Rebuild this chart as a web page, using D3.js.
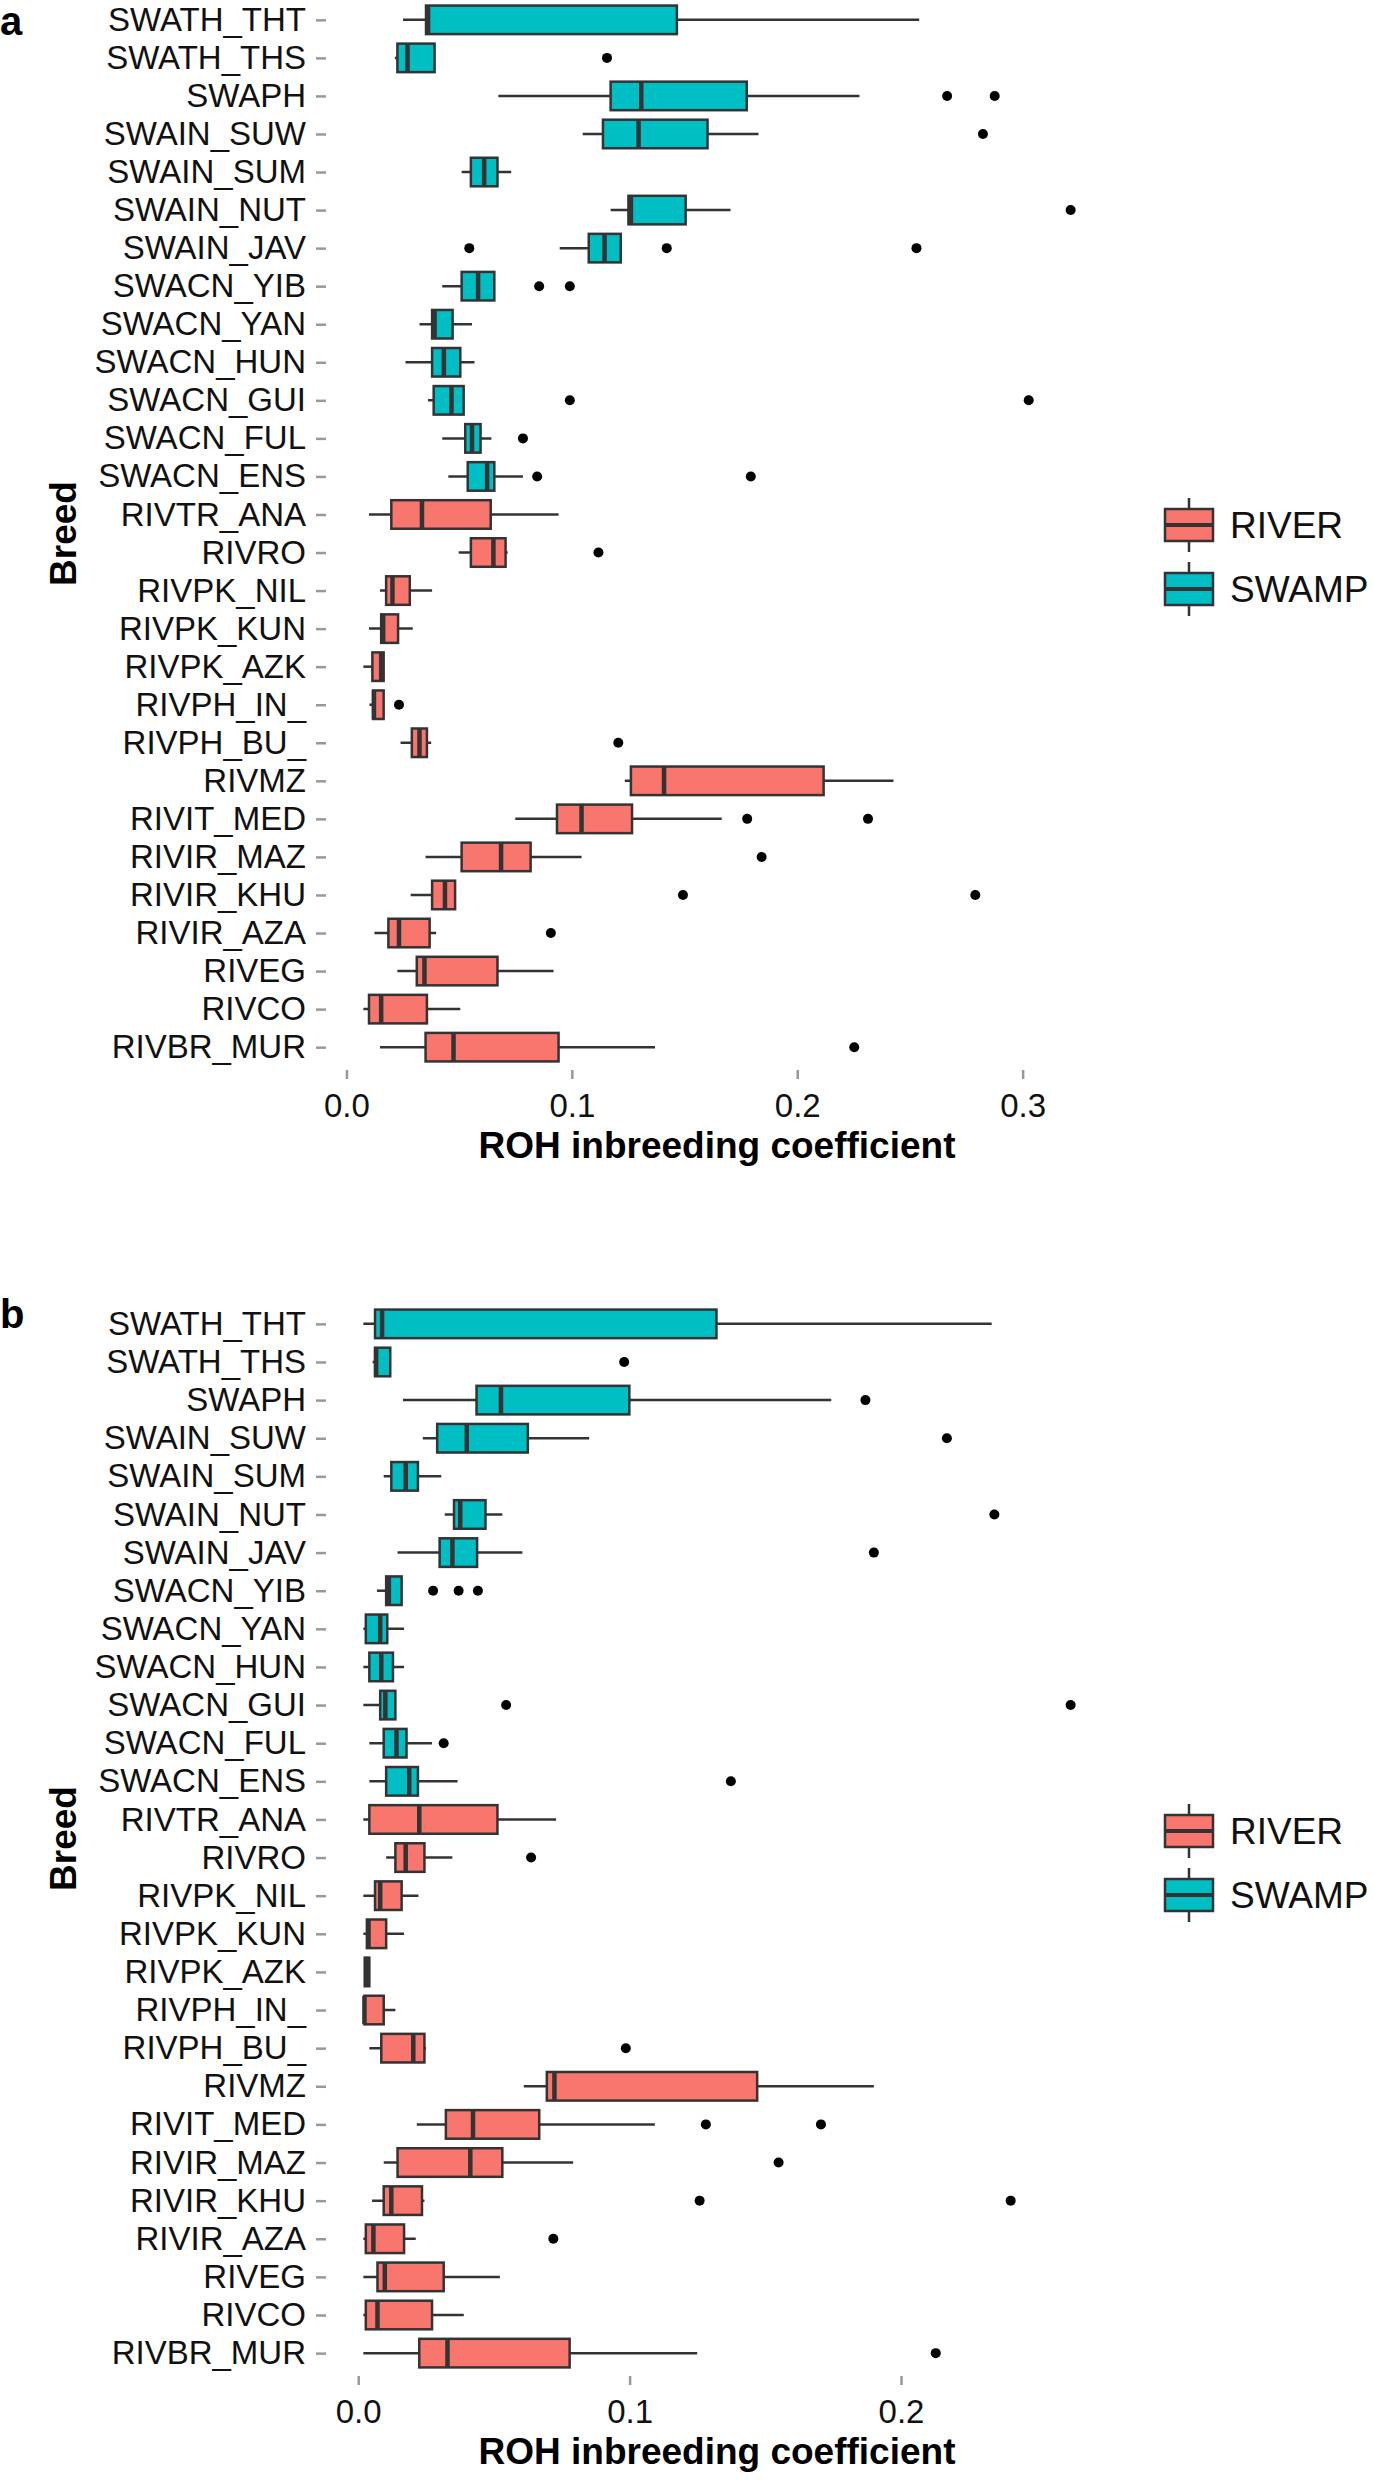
<!DOCTYPE html>
<html>
<head>
<meta charset="utf-8">
<script src="https://cdn.jsdelivr.net/npm/d3@7/dist/d3.min.js"></script>
<style>
  body { margin: 0; background: #fff; }
  svg { display: block; font-family: "Liberation Sans", Arial, sans-serif; }
</style>
</head>
<body>
<svg id="chart" width="1374" height="2480"></svg>
<script>
//Breeds, top to bottom
var breeds = ["SWATH_THT","SWATH_THS","SWAPH","SWAIN_SUW","SWAIN_SUM","SWAIN_NUT","SWAIN_JAV",
  "SWACN_YIB","SWACN_YAN","SWACN_HUN","SWACN_GUI","SWACN_FUL","SWACN_ENS",
  "RIVTR_ANA","RIVRO","RIVPK_NIL","RIVPK_KUN","RIVPK_AZK","RIVPH_IN_","RIVPH_BU_",
  "RIVMZ","RIVIT_MED","RIVIR_MAZ","RIVIR_KHU","RIVIR_AZA","RIVEG","RIVCO","RIVBR_MUR"];
var groups = ["SWAMP","SWAMP","SWAMP","SWAMP","SWAMP","SWAMP","SWAMP",
  "SWAMP","SWAMP","SWAMP","SWAMP","SWAMP","SWAMP",
  "RIVER","RIVER","RIVER","RIVER","RIVER","RIVER","RIVER",
  "RIVER","RIVER","RIVER","RIVER","RIVER","RIVER","RIVER","RIVER"];
var legendKeys = ["RIVER","SWAMP"];
var colors = {RIVER: "#F8766D", SWAMP: "#00BFC4"};

//Panel a
var lowA = [0.0251,0.0215,0.0674,0.1048,0.0511,0.1172,0.0946,0.0425,0.0324,0.0262,0.0362,0.0425,0.0452,
  0.0100,0.0498,0.0149,0.0100,0.0075,0.0102,0.0240,0.1235,0.0749,0.0351,0.0285,0.0124,0.0226,0.0075,0.0149];
var q1A = [0.0353,0.0226,0.1172,0.1138,0.0552,0.1251,0.1075,0.0511,0.0380,0.0380,0.0387,0.0527,0.0538,
  0.0199,0.0552,0.0176,0.0154,0.0115,0.0118,0.0290,0.1262,0.0934,0.0511,0.0380,0.0186,0.0312,0.0100,0.0351];
var medA = [0.0362,0.0271,0.1308,0.1296,0.0611,0.1262,0.1145,0.0584,0.0391,0.0432,0.0466,0.0557,0.0624,
  0.0335,0.0652,0.0204,0.0163,0.0154,0.0122,0.0324,0.1409,0.1043,0.0686,0.0437,0.0233,0.0346,0.0154,0.0475];
var q3A = [0.1466,0.0391,0.1776,0.1602,0.0670,0.1505,0.1217,0.0656,0.0471,0.0505,0.0520,0.0595,0.0656,
  0.0640,0.0706,0.0281,0.0229,0.0165,0.0165,0.0357,0.2117,0.1267,0.0817,0.0482,0.0369,0.0670,0.0357,0.0941];
var highA = [0.2541,0.0391,0.2276,0.1828,0.0731,0.1704,0.1217,0.0656,0.0557,0.0568,0.0520,0.0643,0.0783,
  0.0941,0.0715,0.0380,0.0294,0.0165,0.0165,0.0376,0.2427,0.1665,0.1043,0.0482,0.0398,0.0919,0.0505,0.1369];
var outA = [[],[0.1156],[0.2665,0.2876],[0.2824],[],[0.3213],[0.0545,0.1421,0.2529],[0.0855,0.0991],[],[],
  [0.0991,0.3027],[0.0783],[0.0846,0.1794],[],[0.1118],[],[],[],[0.0233],[0.1206],[],[0.1778,0.2314],
  [0.1842],[0.1493,0.2790],[0.0907],[],[],[0.2253]];

//Panel b
var lowB = [0.0019,0.0053,0.0165,0.0238,0.0094,0.0319,0.0145,0.0069,0.0019,0.0019,0.0019,0.0041,0.0041,
  0.0019,0.0103,0.0019,0.0019,0.0024,0.0019,0.0041,0.0610,0.0216,0.0094,0.0051,0.0019,0.0019,0.0019,0.0019];
var q1B = [0.0062,0.0062,0.0436,0.0291,0.0122,0.0353,0.0300,0.0103,0.0028,0.0041,0.0081,0.0094,0.0103,
  0.0041,0.0137,0.0062,0.0032,0.0024,0.0023,0.0085,0.0695,0.0323,0.0145,0.0094,0.0028,0.0071,0.0028,0.0225];
var medB = [0.0088,0.0066,0.0526,0.0400,0.0175,0.0376,0.0347,0.0113,0.0081,0.0085,0.0100,0.0141,0.0188,
  0.0225,0.0175,0.0081,0.0038,0.0030,0.0023,0.0203,0.0723,0.0423,0.0413,0.0122,0.0056,0.0098,0.0071,0.0329];
var q3B = [0.1320,0.0118,0.0999,0.0625,0.0220,0.0469,0.0438,0.0160,0.0107,0.0128,0.0137,0.0178,0.0220,
  0.0513,0.0244,0.0160,0.0103,0.0041,0.0094,0.0244,0.1470,0.0667,0.0531,0.0235,0.0169,0.0315,0.0272,0.0779];
var highB = [0.2334,0.0118,0.1743,0.0851,0.0306,0.0531,0.0605,0.0160,0.0169,0.0169,0.0137,0.0272,0.0366,
  0.0729,0.0347,0.0222,0.0169,0.0041,0.0137,0.0250,0.1900,0.1093,0.0792,0.0244,0.0212,0.0522,0.0389,0.1249];
var outB = [[],[0.0980],[0.1869],[0.2169],[],[0.2344],[0.1900],[0.0276,0.0370,0.0441],[],[],
  [0.0545,0.2625],[0.0315],[0.1373],[],[0.0637],[],[],[],[],[0.0986],[],[0.1281,0.1705],
  [0.1549],[0.1258,0.2404],[0.0719],[],[],[0.2128]];

var ticksA = [0, 0.1, 0.2, 0.3];
var ticksB = [0, 0.1, 0.2];

var svg = d3.select("#chart");
var left = 328, right = 1106;

function drawPanel(top, bottom, lo, q1, med, q3, hi, out, tickVals, letter, letterY, legendY) {
  var g = svg.append("g");

  //x range padded 5% like ggplot
  var all = lo.concat(hi, d3.merge(out));
  var ext = d3.extent(all);
  var pad = (ext[1] - ext[0]) * 0.05;
  var x = d3.scaleLinear().domain([ext[0] - pad, ext[1] + pad]).range([left, right]);
  var y = d3.scalePoint().domain(breeds).range([top, bottom]).padding(0.6);
  var bh = y.step() * 0.75;

  var rows = breeds.map(function(b, i) {
    return {name: b, grp: groups[i], lo: lo[i], q1: q1[i], med: med[i], q3: q3[i], hi: hi[i], out: out[i]};
  });

  //whiskers
  g.selectAll(".whisker").data(rows).enter().append("line")
    .attr("x1", function(d) { return x(d.lo); })
    .attr("x2", function(d) { return x(d.hi); })
    .attr("y1", function(d) { return y(d.name); })
    .attr("y2", function(d) { return y(d.name); })
    .attr("stroke", "#333").attr("stroke-width", 2.5);

  //boxes
  g.selectAll(".box").data(rows).enter().append("rect")
    .attr("x", function(d) { return x(d.q1); })
    .attr("width", function(d) { return Math.max(x(d.q3) - x(d.q1), 0.5); })
    .attr("y", function(d) { return y(d.name) - bh / 2; })
    .attr("height", bh)
    .attr("fill", function(d) { return colors[d.grp]; })
    .attr("stroke", "#333").attr("stroke-width", 2.5);

  //medians
  g.selectAll(".median").data(rows).enter().append("line")
    .attr("x1", function(d) { return x(d.med); })
    .attr("x2", function(d) { return x(d.med); })
    .attr("y1", function(d) { return y(d.name) - bh / 2; })
    .attr("y2", function(d) { return y(d.name) + bh / 2; })
    .attr("stroke", "#333").attr("stroke-width", 4.5);

  //outliers
  var pts = [];
  rows.forEach(function(d) { d.out.forEach(function(v) { pts.push({name: d.name, v: v}); }); });
  g.selectAll(".outlier").data(pts).enter().append("circle")
    .attr("cx", function(d) { return x(d.v); })
    .attr("cy", function(d) { return y(d.name); })
    .attr("r", 5).attr("fill", "#000");

  //Y axis
  var ya = g.append("g")
    .attr("transform", "translate(" + (left - 2) + ",0)")
    .call(d3.axisLeft(y).tickSize(10).tickPadding(10));
  ya.select(".domain").remove();
  ya.selectAll("line").attr("stroke", "#999").attr("stroke-width", 2.5);
  ya.selectAll("text").attr("font-size", 33).attr("fill", "#111");

  //X axis
  var xa = g.append("g")
    .attr("transform", "translate(0," + bottom + ")")
    .call(d3.axisBottom(x).tickValues(tickVals).tickFormat(d3.format(".1f")).tickSize(9).tickPadding(15));
  xa.select(".domain").remove();
  xa.selectAll("line").attr("stroke", "#999").attr("stroke-width", 2.5);
  xa.selectAll("text").attr("font-size", 33).attr("fill", "#111");

  //axis titles
  g.append("text")
    .attr("x", (left + right) / 2).attr("y", bottom + 88)
    .attr("text-anchor", "middle").attr("font-size", 37).attr("font-weight", "bold")
    .text("ROH inbreeding coefficient");
  g.append("text")
    .attr("transform", "translate(76," + ((top + bottom) / 2) + ") rotate(-90)")
    .attr("text-anchor", "middle").attr("font-size", 37).attr("font-weight", "bold")
    .text("Breed");

  //panel letter
  g.append("text").attr("x", 0).attr("y", letterY)
    .attr("font-size", 40).attr("font-weight", "bold").text(letter);

  //legend
  var lg = g.append("g");
  legendKeys.forEach(function(k, i) {
    var cy = legendY + i * 64;
    lg.append("line").attr("x1", 1189).attr("x2", 1189).attr("y1", cy - 27).attr("y2", cy + 27)
      .attr("stroke", "#333").attr("stroke-width", 2.5);
    lg.append("rect").attr("x", 1165).attr("y", cy - 16).attr("width", 48).attr("height", 32)
      .attr("fill", colors[k]).attr("stroke", "#333").attr("stroke-width", 2.5);
    lg.append("line").attr("x1", 1165).attr("x2", 1213).attr("y1", cy).attr("y2", cy)
      .attr("stroke", "#333").attr("stroke-width", 4);
    lg.append("text").attr("x", 1230).attr("y", cy + 13)
      .attr("font-size", 37).attr("fill", "#111").text(k);
  });
}

drawPanel(-3, 1070, lowA, q1A, medA, q3A, highA, outA, ticksA, "a", 35, 525);
drawPanel(1301, 2376, lowB, q1B, medB, q3B, highB, outB, ticksB, "b", 1328, 1831);
</script>
</body>
</html>
